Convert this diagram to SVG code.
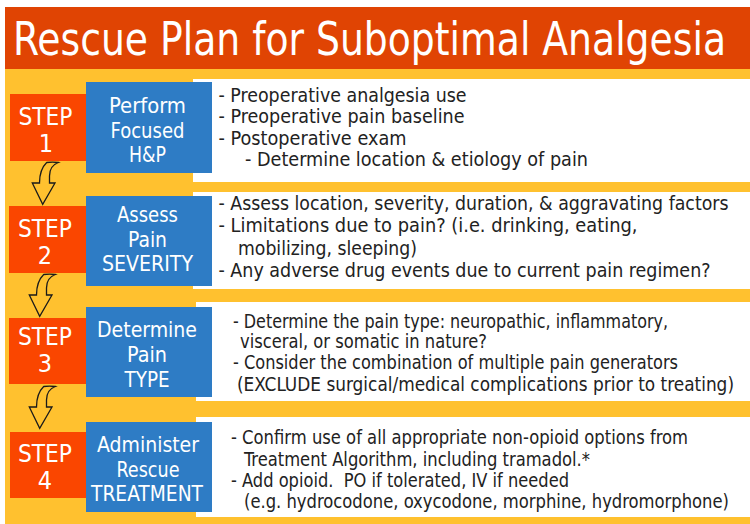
<svg xmlns="http://www.w3.org/2000/svg" xmlns:xlink="http://www.w3.org/1999/xlink" width="750" height="524" viewBox="0 0 750 524">
<style>
.bg{fill:#FFC12F}
.title-bar{fill:#E04403}
.step{fill:#FA4600}
.task{fill:#2E7CC5}
.detail{fill:#FFFFFF}
.t{font-family:"DejaVu Sans Condensed","DejaVu Sans",sans-serif;font-stretch:condensed}
.title{fill:#FFFFFF;font-size:42px}
.steptxt{fill:#FFFFFF;font-size:25px;text-anchor:middle}
.tasktxt{fill:#FFFFFF;font-size:22px;text-anchor:middle}
.body{fill:#222222;font-size:19px}
.arrow{fill:none;stroke:#1a1a1a;stroke-width:1.3;stroke-linejoin:miter}
</style>
<defs>
<path id="curvedArrow" d="M46.7,162.5 Q52.5,161.6 58.3,162.5 C53,164.5 49.5,168.5 49.5,176 L49.5,183 L55,183 L42.7,204.3 L32.3,183 L39.5,183 C39.5,176 40.5,168.5 46.7,162.5 Z"/>
</defs>
<rect x="5" y="69" width="745" height="455" class="bg"/>
<g id="title">
<rect x="5" y="7" width="745" height="62" class="title-bar"/>
<text class="t title" transform="translate(13,55) scale(1,1.1)" x="0" y="0" textLength="713" lengthAdjust="spacingAndGlyphs">Rescue Plan for Suboptimal Analgesia</text>
</g>

<g id="detail1">
<rect x="193" y="79" width="557" height="103" class="detail"/>
<text class="t body" x="218.5" y="101.5" textLength="248" lengthAdjust="spacingAndGlyphs">- Preoperative analgesia use</text>
<text class="t body" x="218.5" y="123" textLength="246" lengthAdjust="spacingAndGlyphs">- Preoperative pain baseline</text>
<text class="t body" x="218.5" y="144.5" textLength="188" lengthAdjust="spacingAndGlyphs">- Postoperative exam</text>
<text class="t body" x="245" y="166" textLength="343" lengthAdjust="spacingAndGlyphs">- Determine location &amp; etiology of pain</text>
</g>
<g id="detail2">
<rect x="193" y="192" width="557" height="97" class="detail"/>
<text class="t body" x="218.5" y="210" textLength="510" lengthAdjust="spacingAndGlyphs">- Assess location, severity, duration, &amp; aggravating factors</text>
<text class="t body" x="218.5" y="232" textLength="419" lengthAdjust="spacingAndGlyphs">- Limitations due to pain? (i.e. drinking, eating,</text>
<text class="t body" x="238" y="254.5" textLength="179" lengthAdjust="spacingAndGlyphs">mobilizing, sleeping)</text>
<text class="t body" x="218.5" y="277" textLength="492" lengthAdjust="spacingAndGlyphs">- Any adverse drug events due to current pain regimen?</text>
</g>
<g id="detail3">
<rect x="196" y="302" width="554" height="99" class="detail"/>
<text class="t body" x="233" y="328" textLength="435" lengthAdjust="spacingAndGlyphs">- Determine the pain type: neuropathic, inflammatory,</text>
<text class="t body" x="240" y="348" textLength="247" lengthAdjust="spacingAndGlyphs">visceral, or somatic in nature?</text>
<text class="t body" x="233" y="369" textLength="445" lengthAdjust="spacingAndGlyphs">- Consider the combination of multiple pain generators</text>
<text class="t body" x="237" y="391" textLength="497" lengthAdjust="spacingAndGlyphs">(EXCLUDE surgical/medical complications prior to treating)</text>
</g>
<g id="detail4">
<rect x="196" y="417" width="554" height="100" class="detail"/>
<text class="t body" x="231" y="444" textLength="457" lengthAdjust="spacingAndGlyphs">- Confirm use of all appropriate non-opioid options from</text>
<text class="t body" x="244" y="465.5" textLength="346" lengthAdjust="spacingAndGlyphs">Treatment Algorithm, including tramadol.*</text>
<text class="t body" x="231" y="486.5" textLength="338" lengthAdjust="spacingAndGlyphs">- Add opioid.&#160; PO if tolerated, IV if needed</text>
<text class="t body" x="244" y="508" textLength="485" lengthAdjust="spacingAndGlyphs">(e.g. hydrocodone, oxycodone, morphine, hydromorphone)</text>
</g>

<g id="step1">
<rect x="10" y="94" width="76" height="67" class="step"/>
<text class="t steptxt"><tspan x="45.5" y="125" textLength="54" lengthAdjust="spacingAndGlyphs">STEP</tspan><tspan x="46" y="152">1</tspan></text>
</g>
<g id="step2">
<rect x="9" y="206" width="77" height="67" class="step"/>
<text class="t steptxt"><tspan x="45" y="236.5" textLength="54" lengthAdjust="spacingAndGlyphs">STEP</tspan><tspan x="45" y="263.5">2</tspan></text>
</g>
<g id="step3">
<rect x="9" y="318" width="77" height="66" class="step"/>
<text class="t steptxt"><tspan x="45" y="345" textLength="54" lengthAdjust="spacingAndGlyphs">STEP</tspan><tspan x="45" y="372">3</tspan></text>
</g>
<g id="step4">
<rect x="10" y="432" width="76" height="66" class="step"/>
<text class="t steptxt"><tspan x="45" y="462" textLength="54" lengthAdjust="spacingAndGlyphs">STEP</tspan><tspan x="45" y="489">4</tspan></text>
</g>

<g id="task1">
<rect x="86" y="82" width="126" height="91" class="task"/>
<text class="t tasktxt" x="147.5" y="113" textLength="77" lengthAdjust="spacingAndGlyphs">Perform</text>
<text class="t tasktxt" x="147.5" y="138" textLength="74" lengthAdjust="spacingAndGlyphs">Focused</text>
<text class="t tasktxt" x="147.5" y="162" textLength="37" lengthAdjust="spacingAndGlyphs">H&amp;P</text>
</g>
<g id="task2">
<rect x="86" y="196" width="126" height="90" class="task"/>
<text class="t tasktxt" x="147.5" y="222" textLength="61" lengthAdjust="spacingAndGlyphs">Assess</text>
<text class="t tasktxt" x="147.5" y="247" textLength="39" lengthAdjust="spacingAndGlyphs">Pain</text>
<text class="t tasktxt" x="147.5" y="271" textLength="91" lengthAdjust="spacingAndGlyphs">SEVERITY</text>
</g>
<g id="task3">
<rect x="86" y="307" width="126" height="90" class="task"/>
<text class="t tasktxt" x="147" y="337" textLength="100" lengthAdjust="spacingAndGlyphs">Determine</text>
<text class="t tasktxt" x="147" y="362" textLength="40" lengthAdjust="spacingAndGlyphs">Pain</text>
<text class="t tasktxt" x="147" y="387" textLength="45" lengthAdjust="spacingAndGlyphs">TYPE</text>
</g>
<g id="task4">
<rect x="86" y="422" width="126" height="90" class="task"/>
<text class="t tasktxt" x="148" y="452" textLength="102" lengthAdjust="spacingAndGlyphs">Administer</text>
<text class="t tasktxt" x="148" y="477" textLength="63" lengthAdjust="spacingAndGlyphs">Rescue</text>
<text class="t tasktxt" x="147" y="501" textLength="112" lengthAdjust="spacingAndGlyphs">TREATMENT</text>
</g>

<g id="connectors">
<use xlink:href="#curvedArrow" class="arrow"/>
<use xlink:href="#curvedArrow" class="arrow" transform="translate(-3,112)"/>
<use xlink:href="#curvedArrow" class="arrow" transform="translate(-3,224)"/>
</g>
</svg>
